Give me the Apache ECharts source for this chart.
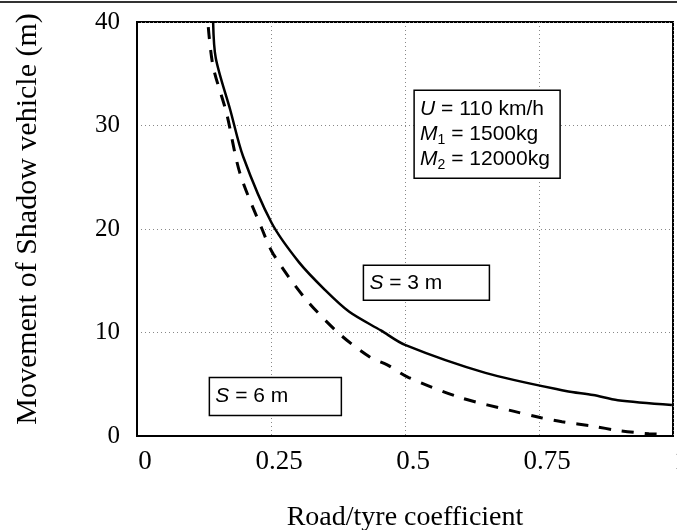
<!DOCTYPE html>
<html>
<head>
<meta charset="utf-8" />
<title>Shadow vehicle movement</title>
<script src="https://cdn.jsdelivr.net/npm/echarts@6/dist/echarts.min.js"></script>
<style>
  html, body { margin: 0; padding: 0; background: #fff; }
  #main { width: 677px; height: 530px; }
</style>
</head>
<body>
<div id="main"></div>
<script>
// S = 3 m (solid)
var coefS3 = [0.142, 0.147, 0.174, 0.198, 0.251, 0.302, 0.351, 0.396, 0.455, 0.5, 0.65, 0.8, 0.851, 0.897, 0.998];
var moveS3 = [40, 36.5, 31.5, 27.0, 20.6, 16.8, 14.1, 12.0, 10.2, 8.8, 6.1, 4.35, 3.96, 3.45, 3.0];
// S = 6 m (dashed)
var coefS6 = [0.133, 0.142, 0.167, 0.192, 0.234, 0.254, 0.312, 0.377, 0.435, 0.466, 0.507, 0.604, 0.702, 0.754, 0.793, 0.851, 0.897, 0.955, 0.99];
var moveS6 = [39.5, 35.7, 31.2, 25.4, 19.9, 17.6, 13.4, 9.9, 7.6, 6.9, 5.65, 3.7, 2.4, 1.76, 1.37, 0.95, 0.53, 0.22, 0.15];
var xTicks = [0, 0.25, 0.5, 0.75, 1];
var yTicks = [0, 10, 20, 30, 40];

function pairs(xs, ys) {
  return xs.map(function (x, i) { return [x, ys[i]]; });
}

var chart = echarts.init(document.getElementById('main'));
var serif = '"Liberation Serif", "DejaVu Serif", serif';
var sans = '"Liberation Sans", Arial, sans-serif';

chart.setOption({
  animation: false,
  grid: {
    left: 137, right: 4, top: 22, bottom: 94,
    outerBoundsMode: 'none', containLabel: false,
    show: true, borderColor: '#000', borderWidth: 2
  },
  xAxis: {
    type: 'value', min: 0, max: 1, interval: 0.25,
    name: 'Road/tyre coefficient', nameLocation: 'middle', nameGap: 68,
    nameTextStyle: { fontFamily: serif, fontSize: 28, color: '#000' },
    axisLine: { show: true, lineStyle: { color: '#000', width: 2 } },
    axisTick: { show: false },
    axisLabel: {
      fontFamily: serif, fontSize: 27, color: '#000', margin: 12,
      padding: [0, 0, 0, 16], hideOverlap: false,
      formatter: function (v) { return xTicks.indexOf(v) >= 0 ? String(v) : ''; }
    },
    splitLine: { show: true, lineStyle: { color: '#888', type: [1, 3], width: 1 } }
  },
  yAxis: {
    type: 'value', min: 0, max: 40, interval: 10,
    name: 'Movement of Shadow vehicle (m)', nameLocation: 'middle', nameGap: 94,
    nameTextStyle: { fontFamily: serif, fontSize: 30, color: '#000', padding: [0, 0, 0, 20] },
    axisLine: { show: true, lineStyle: { color: '#000', width: 2 } },
    axisTick: { show: false },
    axisLabel: {
      fontFamily: serif, fontSize: 25, color: '#000', margin: 17,
      padding: [8, 0, 0, 0],
      formatter: function (v) { return yTicks.indexOf(v) >= 0 ? String(v) : ''; }
    },
    splitLine: { show: true, lineStyle: { color: '#888', type: [1, 3], width: 1 } }
  },
  series: [
    {
      name: 'S = 3 m', type: 'line', data: pairs(coefS3, moveS3),
      showSymbol: false, smooth: 0.3,
      lineStyle: { color: '#000', width: 2.5 }
    },
    {
      name: 'S = 6 m', type: 'line', data: pairs(coefS6, moveS6),
      showSymbol: false, smooth: 0.3,
      lineStyle: { color: '#000', width: 3, type: [12, 11] }
    }
  ]
});

// annotation boxes placed in data coordinates
function box(x, y, w, h, text) {
  var p = chart.convertToPixel({ gridIndex: 0 }, [x, y]);
  return {
    type: 'group', x: p[0], y: p[1],
    children: [
      { type: 'rect', shape: { x: 0, y: 0, width: w, height: h },
        style: { fill: '#fff', stroke: '#000', lineWidth: 1.5 } },
      { type: 'text', x: 6, y: h / 2,
        style: { text: text, rich: rich, fontFamily: sans, fontSize: 21, fill: '#000',
                 verticalAlign: 'middle', lineHeight: 25 } }
    ]
  };
}

var rich = {
  i: { fontFamily: sans, fontStyle: 'italic', fontSize: 21, lineHeight: 25 },
  t: { fontFamily: sans, fontSize: 21, lineHeight: 25 },
  s: { fontFamily: sans, fontSize: 14, lineHeight: 25, verticalAlign: 'bottom', padding: [9, 0, 0, 0] }
};

chart.setOption({
  graphic: [
    { type: 'line', shape: { x1: 0, y1: 2, x2: 677, y2: 2 }, style: { stroke: '#333', lineWidth: 2 } },
    box(0.517, 33.4, 146, 88,
        '{i|U}{t| = 110 km/h}\n{i|M}{s|1}{t| = 1500kg}\n{i|M}{s|2}{t| = 12000kg}'),
    box(0.4224, 16.5, 126, 35, '{i|S}{t| = 3 m}'),
    box(0.135, 5.65, 132, 38, '{i|S}{t| = 6 m}')
  ]
});
</script>
</body>
</html>
